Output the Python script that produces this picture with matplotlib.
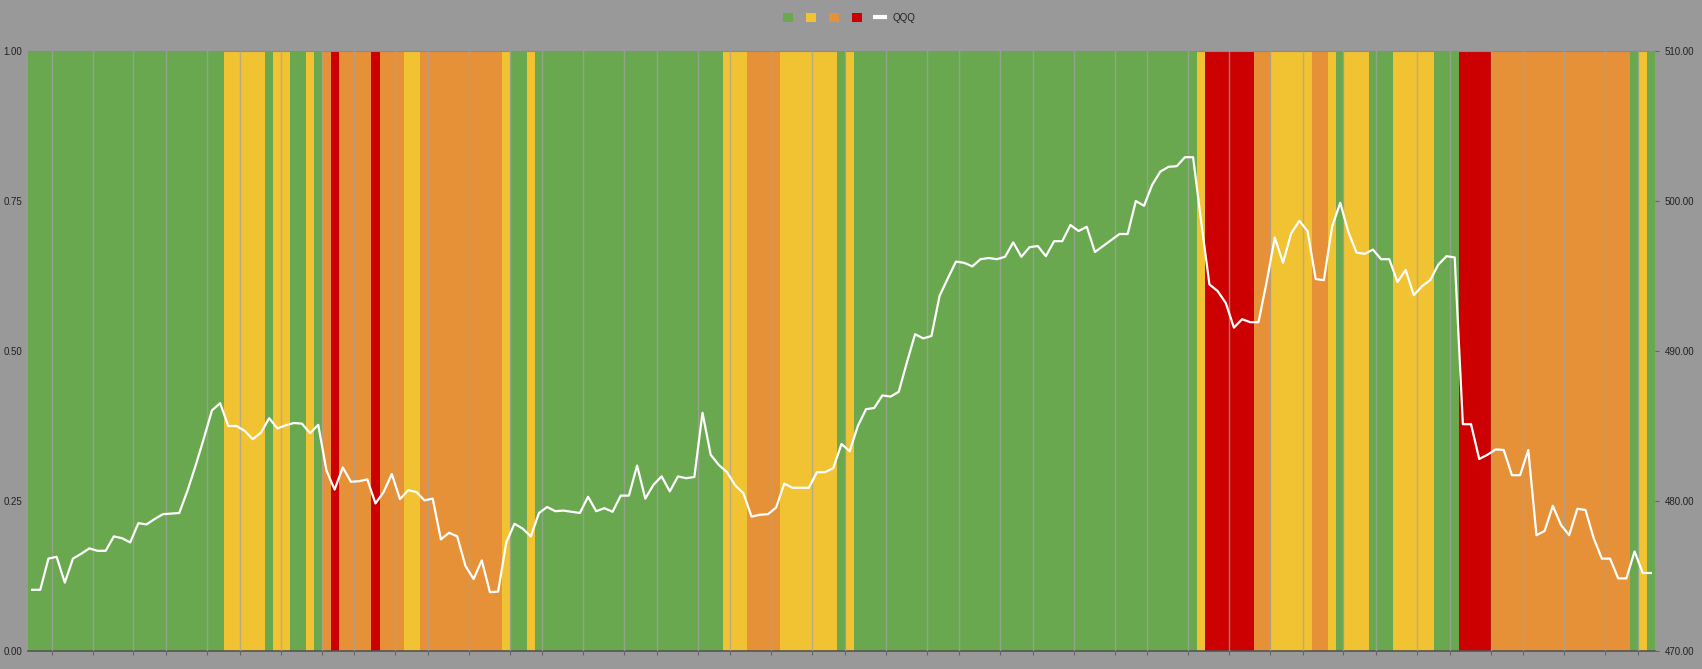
import numpy as np
import matplotlib.pyplot as plt
from matplotlib.patches import Patch
from matplotlib.lines import Line2D

# Signal colour per trading day, as (signal, number of days)
signal_runs = [
    ("G", 24), ("Y", 5), ("G", 1), ("Y", 2), ("G", 2), ("Y", 1), ("G", 1),
    ("O", 1), ("R", 1), ("O", 4), ("R", 1), ("O", 3), ("Y", 2), ("O", 10),
    ("Y", 1), ("G", 2), ("Y", 1), ("G", 23), ("Y", 3), ("O", 4), ("Y", 7),
    ("G", 1), ("Y", 1), ("G", 42), ("Y", 1), ("R", 6), ("O", 2), ("Y", 5),
    ("O", 2), ("Y", 1), ("G", 1), ("Y", 3), ("G", 3), ("Y", 5), ("G", 3),
    ("R", 4), ("O", 17), ("G", 1), ("Y", 1), ("G", 1),
]

# QQQ close per trading day
qqq = [
    474.08, 474.08, 476.16, 476.28, 474.56, 476.16, 476.48, 476.84, 476.68, 476.68,
    477.64, 477.52, 477.24, 478.52, 478.44, 478.80, 479.12, 479.16, 479.20, 480.68,
    482.36, 484.16, 486.04, 486.52, 485.00, 485.00, 484.68, 484.12, 484.56, 485.52,
    484.84, 485.04, 485.20, 485.16, 484.52, 485.08, 482.04, 480.76, 482.24, 481.28,
    481.32, 481.44, 479.84, 480.60, 481.80, 480.12, 480.72, 480.60, 480.04, 480.16,
    477.44, 477.88, 477.64, 475.68, 474.80, 476.04, 473.92, 473.96, 477.24, 478.48,
    478.16, 477.64, 479.20, 479.60, 479.32, 479.36, 479.28, 479.20, 480.28, 479.32,
    479.52, 479.28, 480.36, 480.36, 482.36, 480.16, 481.08, 481.64, 480.64, 481.64,
    481.52, 481.60, 485.88, 483.08, 482.40, 481.92, 481.04, 480.52, 478.96, 479.08,
    479.12, 479.56, 481.16, 480.88, 480.88, 480.88, 481.92, 481.92, 482.20, 483.80,
    483.32, 485.00, 486.12, 486.20, 487.04, 486.96, 487.28, 489.24, 491.12, 490.84,
    491.00, 493.68, 494.84, 495.96, 495.88, 495.64, 496.12, 496.20, 496.12, 496.28,
    497.24, 496.28, 496.92, 497.00, 496.32, 497.32, 497.32, 498.40, 498.00, 498.28,
    496.60, 497.00, 497.40, 497.80, 497.80, 500.00, 499.68, 501.08, 501.96, 502.28,
    502.32, 502.92, 502.92, 498.60, 494.44, 494.00, 493.20, 491.56, 492.12, 491.92,
    491.92, 494.60, 497.56, 495.88, 497.84, 498.68, 498.00, 494.80, 494.72, 498.28,
    499.88, 497.92, 496.56, 496.48, 496.76, 496.12, 496.12, 494.60, 495.40, 493.72,
    494.32, 494.72, 495.76, 496.32, 496.24, 485.12, 485.12, 482.80, 483.08, 483.44,
    483.40, 481.72, 481.72, 483.40, 477.72, 478.00, 479.68, 478.40, 477.72, 479.48,
    479.40, 477.52, 476.16, 476.16, 474.84, 474.84, 476.64, 475.20, 475.20,
]

# first trading day of each week (index)
week_starts = [3, 8, 13, 17, 22, 26, 31, 36, 40, 45, 49, 54, 59, 63, 68, 73, 77, 82,
               86, 91, 96, 100, 105, 110, 114, 119, 123, 128, 133, 137, 142, 147, 152,
               156, 161, 165, 170, 174, 179, 183, 188, 193, 197]

colors = {"G": "#6aa84f", "Y": "#f1c232", "O": "#e69138", "R": "#cc0000"}
bg = "#999999"

signal = []
for s, n in signal_runs:
    signal += [s] * n
days = np.arange(len(signal))

plt.rcParams['font.family'] = ['Liberation Sans', 'DejaVu Sans']
plt.rcParams['font.size'] = 7

fig = plt.figure(figsize=(17.02, 6.69), dpi=100, facecolor=bg)
ax = fig.add_axes([28 / 1702, 18 / 669, 1627 / 1702, 600 / 669])
ax.set_facecolor(bg)

ax.bar(days, np.ones(len(days)), width=1.0, color=[colors[s] for s in signal],
       linewidth=0, zorder=2)
for w in week_starts:
    ax.axvline(w - 0.6, color="#a3a3a3", lw=1.0, alpha=0.7, zorder=3)

ax.set_xlim(-0.5, len(days) - 0.5)
ax.set_ylim(0, 1)
ax.set_yticks([0, 0.25, 0.5, 0.75, 1.0])
ax.set_yticklabels(["0.00", "0.25", "0.50", "0.75", "1.00"])
ax.yaxis.grid(True, color="#8a8a8a", lw=1, zorder=0)
ax.set_axisbelow(True)
ax.set_xticks([w - 0.6 for w in week_starts])
ax.set_xticklabels([])
ax.tick_params(axis='x', length=3, color="#666666", width=0.8)
ax.tick_params(axis='y', length=0, pad=4, labelcolor="#222222")
for side in ["left", "right"]:
    ax.spines[side].set_visible(False)
ax.spines["top"].set_color("#8a8a8a")
ax.spines["bottom"].set_color("#555555")
ax.spines["bottom"].set_linewidth(1.2)

ax2 = ax.twinx()
ax2.plot(days, qqq, color="white", lw=1.6, zorder=5)
ax2.set_ylim(470, 510)
ax2.set_yticks([470, 480, 490, 500, 510])
ax2.set_yticklabels(["470.00", "480.00", "490.00", "500.00", "510.00"])
ax2.tick_params(axis='y', length=3, pad=4, color="#666666", labelcolor="#222222")
for side in ["left", "right", "top", "bottom"]:
    ax2.spines[side].set_visible(False)

handles = [Patch(facecolor=colors[k], edgecolor="none") for k in ["G", "Y", "O", "R"]]
handles.append(Line2D([0], [0], color="white", lw=3))
fig.legend(handles, ["", "", "", "", "QQQ"], loc="center", bbox_to_anchor=(0.4988, 0.973),
           ncol=5, frameon=False, handlelength=1.06, handleheight=1.06,
           handletextpad=0.74, columnspacing=0.56, fontsize=7, labelcolor="#222222")

fig.savefig("out.png", dpi=100, facecolor=bg)
